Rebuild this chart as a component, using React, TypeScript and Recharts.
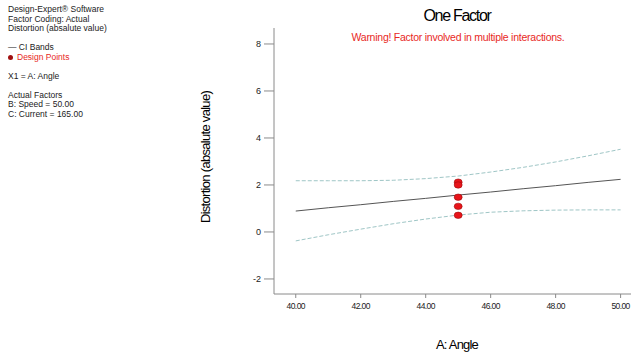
import React from 'react';
import {
  ComposedChart, Line, Scatter, XAxis, YAxis,
} from 'recharts';

const FONT = '"Liberation Sans", Arial, sans-serif';
const AXIS = '#8a8a8a';

// A: Angle along the x axis
const angle     = [40, 41, 42, 43, 44, 45, 46, 47, 48, 49, 50];
const fitted    = [0.89, 1.03, 1.16, 1.30, 1.43, 1.57, 1.70, 1.84, 1.97, 2.11, 2.24];
const ciUpper   = [2.18, 2.18, 2.18, 2.20, 2.27, 2.38, 2.55, 2.75, 2.98, 3.24, 3.52];
const ciLower   = [-0.38, -0.12, 0.12, 0.35, 0.55, 0.72, 0.84, 0.90, 0.93, 0.94, 0.94];

const designX   = [45, 45, 45, 45, 45];
const designY   = [2.12, 2.0, 1.48, 1.09, 0.71];

const xTicks = [40, 42, 44, 46, 48, 50];
const yTicks = [-2, 0, 2, 4, 6, 8];

const infoLines = [
  'Design-Expert® Software',
  'Factor Coding: Actual',
  'Distortion (absalute value)',
];
const factorLines = ['Actual Factors', 'B: Speed = 50.00', 'C: Current = 165.00'];

const curve = angle.map((x, i) => ({ x, fit: fitted[i], hi: ciUpper[i], lo: ciLower[i] }));
const points = designX.map((x, i) => ({ x, y: designY[i] }));

function Dot(props: any) {
  const { cx, cy } = props;
  return <ellipse cx={cx} cy={cy} rx={4} ry={3.2} fill="#e8141a" stroke="#9a0c0c" strokeWidth={0.6} />;
}

const txt: React.CSSProperties = { position: 'absolute', fontFamily: FONT, whiteSpace: 'nowrap' };

export default function App() {
  return (
    <div style={{ position: 'absolute', left: 0, top: 0, width: 631, height: 354, background: '#fff', overflow: 'hidden' }}>
      <div style={{ ...txt, left: 8, top: 5, fontSize: 8.5, lineHeight: '9.5px', color: '#222' }}>
        {infoLines.map(l => <div key={l}>{l}</div>)}
        <div style={{ height: 9.5 }} />
        <div>— CI Bands</div>
        <div style={{ color: '#e8281e' }}>
          <span style={{ display: 'inline-block', width: 5, height: 5, borderRadius: 3, background: '#a01010', marginRight: 4, verticalAlign: 'middle' }} />
          Design Points
        </div>
        <div style={{ height: 9.5 }} />
        <div>X1 = A: Angle</div>
        <div style={{ height: 9.5 }} />
        {factorLines.map(l => <div key={l}>{l}</div>)}
      </div>

      <div style={{ ...txt, left: 457, top: 7, transform: 'translateX(-50%)', fontSize: 16, letterSpacing: -1.3, color: '#000' }}>
        One Factor
      </div>
      <div style={{ ...txt, left: 458, top: 31, transform: 'translateX(-50%)', fontSize: 10.5, letterSpacing: -0.25, color: '#e8281e' }}>
        Warning! Factor involved in multiple interactions.
      </div>
      <div style={{ ...txt, left: 205, top: 157, transform: 'translate(-50%,-50%) rotate(-90deg)', fontSize: 13, letterSpacing: -0.7, color: '#000' }}>
        Distortion (absalute value)
      </div>
      <div style={{ ...txt, left: 457, top: 337, transform: 'translateX(-50%)', fontSize: 13, letterSpacing: -0.8, color: '#000' }}>
        A: Angle
      </div>

      <ComposedChart width={631} height={354} margin={{ top: 28, right: 0, left: 0, bottom: 0 }}>
        <XAxis
          xAxisId="b" type="number" dataKey="x" domain={[39.33, 50.32]} ticks={xTicks} allowDataOverflow
          tickFormatter={v => v.toFixed(2)} stroke={AXIS} tickSize={4} tickMargin={5}
          tick={{ fill: '#222', fontSize: 8.5, fontFamily: FONT, letterSpacing: -0.6 }} height={60}
        />
        <XAxis xAxisId="t" orientation="top" type="number" dataKey="x" domain={[39.33, 50.32]} tick={false} tickLine={false} stroke={AXIS} height={0} />
        <YAxis
          type="number" domain={[-2.64, 8.68]} ticks={yTicks} allowDataOverflow width={274}
          stroke={AXIS} tickSize={10} tickMargin={3}
          tick={{ fill: '#222', fontSize: 9, fontFamily: FONT }}
        />
        <Line data={curve} xAxisId="b" dataKey="hi" stroke="#9fc6c6" strokeWidth={1} strokeDasharray="4 2" dot={false} isAnimationActive={false} />
        <Line data={curve} xAxisId="b" dataKey="lo" stroke="#9fc6c6" strokeWidth={1} strokeDasharray="4 2" dot={false} isAnimationActive={false} />
        <Line data={curve} xAxisId="b" dataKey="fit" stroke="#555" strokeWidth={1} dot={false} isAnimationActive={false} />
        <Scatter data={points} xAxisId="b" dataKey="y" shape={<Dot />} isAnimationActive={false} />
      </ComposedChart>
    </div>
  );
}
